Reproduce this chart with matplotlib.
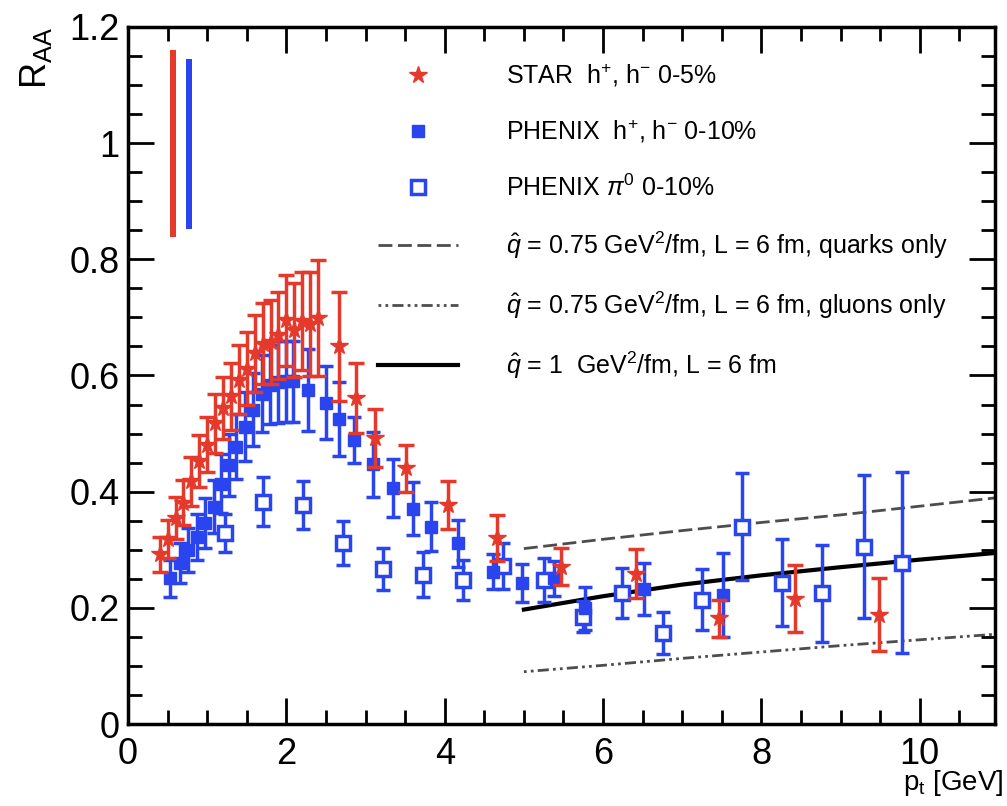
import matplotlib
matplotlib.use("Agg")
import matplotlib.pyplot as plt
from matplotlib.ticker import MultipleLocator, FormatStrFormatter

plt.rcParams['font.family'] = ['Liberation Sans', 'DejaVu Sans']
plt.rcParams['mathtext.fontset'] = 'custom'
plt.rcParams['mathtext.rm'] = 'Liberation Sans'
plt.rcParams['mathtext.it'] = 'Liberation Sans:italic'

# STAR h+, h- 0-5%
star_pt = [0.40, 0.50, 0.60, 0.70, 0.80, 0.90, 1.00, 1.10, 1.20, 1.30, 1.40,
           1.50, 1.60, 1.70, 1.80, 1.90, 2.00, 2.10, 2.20, 2.30, 2.40,
           2.67, 2.88, 3.12, 3.51, 4.04, 4.66, 5.47, 6.41, 7.46, 8.43, 9.48]
star_raa = [0.292, 0.318, 0.355, 0.381, 0.418, 0.453, 0.481, 0.518, 0.544, 0.564, 0.593,
            0.612, 0.638, 0.655, 0.658, 0.669, 0.695, 0.678, 0.694, 0.689, 0.699,
            0.650, 0.561, 0.492, 0.440, 0.377, 0.320, 0.271, 0.259, 0.182, 0.216, 0.188]
star_err = [0.030, 0.033, 0.036, 0.039, 0.042, 0.045, 0.048, 0.051, 0.054, 0.057, 0.060,
            0.063, 0.066, 0.069, 0.072, 0.075, 0.078, 0.081, 0.085, 0.090, 0.100,
            0.094, 0.060, 0.050, 0.040, 0.042, 0.040, 0.032, 0.042, 0.032, 0.058, 0.063]

# PHENIX h+, h- 0-10%
phx_pt = [0.53, 0.66, 0.76, 0.87, 0.97, 1.08, 1.18, 1.27, 1.37, 1.48, 1.58, 1.69,
          1.79, 1.90, 2.00, 2.08, 2.27, 2.50, 2.67, 2.86, 3.10, 3.35, 3.60, 3.83,
          4.17, 4.61, 4.98, 5.38, 5.77, 6.52, 7.51]
phx_raa = [0.251, 0.277, 0.300, 0.322, 0.346, 0.374, 0.414, 0.446, 0.477, 0.512, 0.541, 0.569,
           0.584, 0.589, 0.590, 0.590, 0.575, 0.553, 0.525, 0.489, 0.447, 0.407, 0.371, 0.340,
           0.311, 0.262, 0.243, 0.251, 0.199, 0.233, 0.222]
phx_err = [0.032, 0.035, 0.038, 0.040, 0.043, 0.046, 0.050, 0.053, 0.056, 0.060, 0.063, 0.066,
           0.068, 0.070, 0.070, 0.070, 0.070, 0.063, 0.063, 0.040, 0.056, 0.050, 0.045, 0.043,
           0.040, 0.030, 0.033, 0.030, 0.037, 0.045, 0.073]

# PHENIX pi0 0-10%
pi0_pt = [1.22, 1.71, 2.21, 2.71, 3.22, 3.72, 4.23, 4.74, 5.25, 5.75, 6.24, 6.76,
          7.25, 7.76, 8.26, 8.77, 9.29, 9.78]
pi0_raa = [0.329, 0.383, 0.377, 0.312, 0.267, 0.257, 0.248, 0.272, 0.248, 0.185, 0.225, 0.156,
           0.214, 0.340, 0.243, 0.225, 0.305, 0.278]
pi0_err = [0.033, 0.042, 0.042, 0.038, 0.036, 0.039, 0.035, 0.039, 0.038, 0.026, 0.043, 0.036,
           0.053, 0.092, 0.075, 0.083, 0.123, 0.155]

# theory curves
th_pt = [5, 6, 7, 8, 9, 10, 11]
th_quarks = [0.302, 0.318, 0.333, 0.347, 0.360, 0.375, 0.390]
th_gluons = [0.090, 0.101, 0.113, 0.124, 0.135, 0.145, 0.155]
th_q1 = [0.197, 0.220, 0.240, 0.256, 0.270, 0.283, 0.295]

# normalisation uncertainty boxes
norm_x = [0.57, 0.77]
norm_lo = [0.838, 0.852]
norm_hi = [1.160, 1.145]

red = '#e5392c'
blue = '#2a44f0'

fig = plt.figure(figsize=(10.07, 8.06), dpi=100)
ax = fig.add_axes([128/1007, 1-724/806, (995-128)/1007, (724-27)/806])

ax.bar(norm_x, [h - l for h, l in zip(norm_hi, norm_lo)], bottom=norm_lo,
       width=0.085, color=[red, blue], linewidth=0)

ax.plot(th_pt, th_quarks, color='0.3', lw=2, ls=(0, (5, 2)),
        label=r'$\hat{q}$ = 0.75 GeV$^{2}$/fm, L = 6 fm, quarks only', zorder=1)
ax.plot(th_pt, th_gluons, color='0.3', lw=2, ls=(0, (1, 1.5, 1, 1.5, 4, 1.5)),
        label=r'$\hat{q}$ = 0.75 GeV$^{2}$/fm, L = 6 fm, gluons only', zorder=1)
ax.plot(th_pt, th_q1, color='black', lw=3,
        label=r'$\hat{q}$ = 1  GeV$^{2}$/fm, L = 6 fm', zorder=1)

ax.errorbar(pi0_pt, pi0_raa, yerr=pi0_err, fmt='none', ecolor=blue,
            elinewidth=2.5, capsize=5, capthick=2.5, zorder=2)
ax.plot(pi0_pt, pi0_raa, 's', ms=10, mfc='white', mec=blue, mew=2.5, ls='none',
        label=r'PHENIX $\pi^{0}$ 0-10%', zorder=3)
ax.errorbar(phx_pt, phx_raa, yerr=phx_err, fmt='none', ecolor=blue,
            elinewidth=2.5, capsize=5, capthick=2.5, zorder=2)
ax.plot(phx_pt, phx_raa, 's', ms=8, color=blue, ls='none',
        label=r'PHENIX  h$^{+}$, h$^{-}$ 0-10%', zorder=3)
ax.errorbar(star_pt, star_raa, yerr=star_err, fmt='none', ecolor=red,
            elinewidth=2.5, capsize=6, capthick=2.5, zorder=4)
ax.plot(star_pt, star_raa, '*', ms=13, color=red, ls='none',
        label=r'STAR  h$^{+}$, h$^{-}$ 0-5%', zorder=5)

ax.set_xlim(0, 10.95)
ax.set_ylim(0, 1.2)
ax.xaxis.set_major_locator(MultipleLocator(2))
ax.xaxis.set_minor_locator(MultipleLocator(0.5))
ax.yaxis.set_major_locator(MultipleLocator(0.2))
ax.yaxis.set_minor_locator(MultipleLocator(0.05))
ax.yaxis.set_major_formatter(FormatStrFormatter('%g'))
ax.xaxis.set_major_formatter(FormatStrFormatter('%g'))
ax.tick_params(which='both', direction='in', top=True, right=True, width=2, labelsize=26, pad=6)
ax.tick_params(which='major', length=19)
ax.tick_params(which='minor', length=10)
ax.tick_params(axis='x', which='major', pad=9)
for s in ax.spines.values():
    s.set_linewidth(2.5)

ax.set_ylabel(r'R$_{\mathrm{AA}}$', fontsize=26, loc='top')
ax.yaxis.set_label_coords(-0.085, 1.0)
ax.set_xlabel(r'p$_{\mathrm{t}}$ [GeV]', fontsize=20, loc='right')
ax.xaxis.set_label_coords(1.01, -0.063)

h, l = ax.get_legend_handles_labels()
order = [5, 4, 3, 0, 1, 2]
ax.legend([h[i] for i in order], [l[i] for i in order], loc='upper left',
          bbox_to_anchor=(378/1007, 1-62/806), bbox_transform=fig.transFigure,
          frameon=False, fontsize=18, handlelength=3.2, handletextpad=1.9,
          labelspacing=1.15, borderpad=0, borderaxespad=0)

fig.savefig('out.png', dpi=100)
